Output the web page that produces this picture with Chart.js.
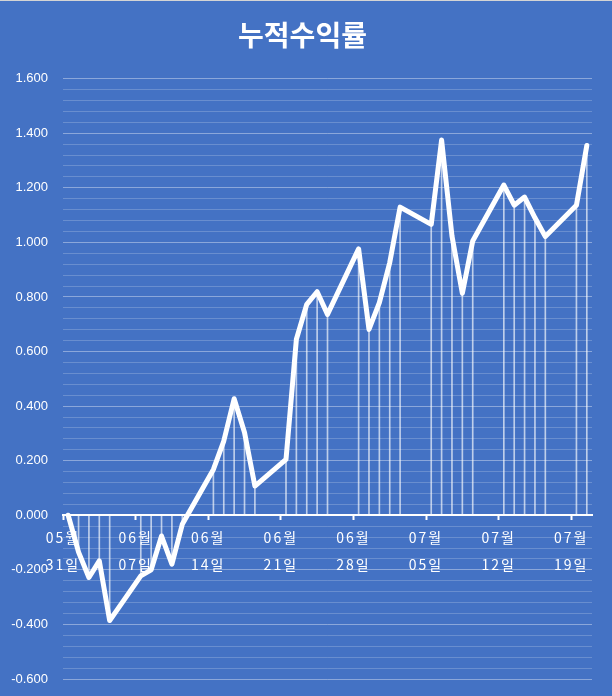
<!DOCTYPE html>
<html lang="ko">
<head>
<meta charset="utf-8">
<title>누적수익률</title>
<script src="https://cdn.jsdelivr.net/npm/chart.js@4/dist/chart.umd.min.js"></script>
<style>
  html, body { margin: 0; padding: 0; background: #4472C4; }
  #wrap { width: 612px; height: 696px; position: relative; }
  #wrap::after { content: ''; position: absolute; left: 0; right: 0; top: 0; height: 1px; background: #d4d4d4; }
</style>
</head>
<body>
<div id="wrap"><canvas id="chart"></canvas></div>
<script>
// Cumulative return, one point per trading day (2021)
const dates = [
  '05-31', '06-01', '06-02', '06-03', '06-04',
  '06-07', '06-08', '06-09', '06-10', '06-11',
  '06-14', '06-15', '06-16', '06-17', '06-18',
  '06-21', '06-22', '06-23', '06-24', '06-25',
  '06-28', '06-29', '06-30', '07-01', '07-02',
  '07-05', '07-06', '07-07', '07-08', '07-09',
  '07-12', '07-13', '07-14', '07-15', '07-16',
  '07-19', '07-20'
];
const returns = [
  0.000, -0.135, -0.228, -0.167, -0.386,
  -0.222, -0.200, -0.076, -0.179, -0.033,
  0.168, 0.272, 0.427, 0.303, 0.107,
  0.205, 0.645, 0.773, 0.819, 0.736,
  0.976, 0.681, 0.779, 0.926, 1.129,
  1.066, 1.375, 1.023, 0.813, 1.005,
  1.210, 1.136, 1.166, 1.090, 1.021,
  1.136, 1.355
];
// weekly date labels on the category axis
const tickLabels = ['05월 31일', '06월 07일', '06월 14일', '06월 21일', '06월 28일', '07월 05일', '07월 12일', '07월 19일'];
const yMin = -0.6, yMax = 1.6, yMinorStep = 0.04, yMajorEvery = 5;

// days since the first date
const DAY = 86400000;
const dayOf = s => {
  const [m, d] = s.split('-').map(Number);
  return Date.UTC(2021, m - 1, d);
};
const start = dayOf(dates[0]);
const points = dates.map((d, i) => ({ x: (dayOf(d) - start) / DAY, y: returns[i] }));
const lastDay = points[points.length - 1].x;

// letter spacing only for the x tick labels (drawn after the datasets)
const spacing = {
  id: 'spacing',
  afterDatasetsDraw(chart) { chart.ctx.letterSpacing = '2px'; },
  afterDraw(chart) { chart.ctx.letterSpacing = '0px'; }
};

new Chart(document.getElementById('chart'), {
  data: {
    datasets: [{
      type: 'line',
      data: points,
      borderColor: '#ffffff',
      borderWidth: 5,
      borderJoinStyle: 'round',
      borderCapStyle: 'round',
      pointRadius: 0,
      tension: 0,
      order: 0
    }, {
      // drop lines from each point to the zero axis
      type: 'bar',
      data: points,
      backgroundColor: 'rgba(255,255,255,0.65)',
      barThickness: 1,
      order: 1
    }]
  },
  options: {
    responsive: true,
    maintainAspectRatio: false,
    animation: false,
    layout: { padding: { left: 0, right: 7, bottom: 17 } },
    plugins: {
      legend: { display: false },
      tooltip: { enabled: false },
      title: {
        display: true,
        text: '누적수익률',
        color: '#ffffff',
        font: { family: '"Noto Sans CJK KR", sans-serif', size: 28, weight: 'bold', lineHeight: 1.2 },
        padding: { top: 19, bottom: 26 }
      }
    },
    scales: {
      x: {
        type: 'linear',
        position: { y: 0 },
        offset: false,
        min: -0.5,
        max: lastDay + 0.5,
        afterBuildTicks: scale => {
          scale.ticks = tickLabels.map((_, i) => ({ value: -0.5 + 7 * i }));
        },
        ticks: {
          z: 1,
          color: '#ffffff',
          padding: 5,
          maxRotation: 0,
          autoSkip: false,
          font: { family: '"Noto Sans CJK KR", sans-serif', size: 14, lineHeight: 1.93 },
          callback: (v, i) => tickLabels[i].split(' ')
        },
        grid: {
          offset: false,
          drawOnChartArea: false,
          drawTicks: true,
          tickLength: 4,
          tickWidth: 2,
          tickColor: '#ffffff'
        },
        border: { display: true, color: '#ffffff', width: 2 }
      },
      y: {
        min: yMin,
        max: yMax,
        afterBuildTicks: scale => {
          const n = Math.round((yMax - yMin) / yMinorStep);
          const t = [];
          for (let i = 0; i <= n; i++) t.push({ value: +(yMin + i * yMinorStep).toFixed(3) });
          scale.ticks = t;
        },
        afterFit: scale => {
          scale.width = 63;
          // only half a label of room above and below, not the label padding
          scale.paddingTop = 8;
          scale.paddingBottom = 8;
        },
        ticks: {
          color: '#ffffff',
          padding: 15,
          autoSkip: false,
          font: { family: '"Liberation Sans", Arial, sans-serif', size: 13 },
          callback: (v, i) => (i % yMajorEvery === 0 ? Number(v).toFixed(3) : '')
        },
        grid: {
          drawTicks: false,
          color: c => (c.index % yMajorEvery === 0 ? 'rgba(255,255,255,0.38)' : 'rgba(255,255,255,0.2)'),
          lineWidth: 1
        },
        border: { display: false }
      },
      // empty strip on the right so the plot ends where the original does
      gap: {
        position: 'right',
        display: true,
        grid: { display: false },
        ticks: { display: false },
        border: { display: false },
        afterFit: scale => { scale.width = 13; }
      }
    }
  },
  plugins: [spacing]
});
</script>
</body>
</html>
